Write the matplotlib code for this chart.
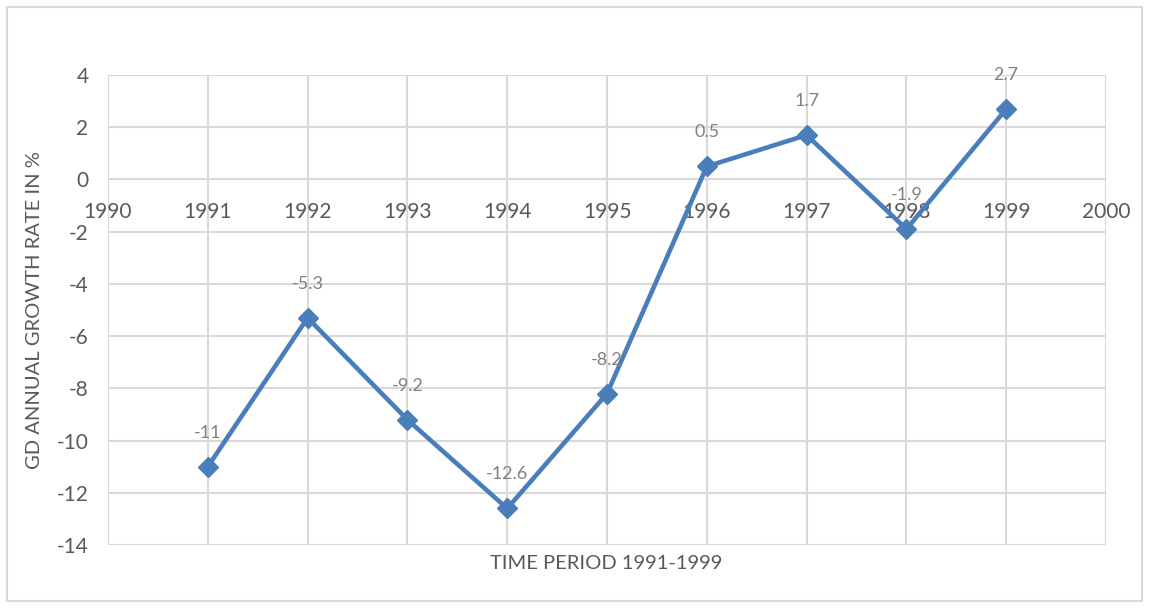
import matplotlib.pyplot as plt
from matplotlib.patches import Rectangle

plt.rcParams['font.family'] = ['Lato', 'DejaVu Sans']
plt.rcParams['axes.unicode_minus'] = False

years = [1991, 1992, 1993, 1994, 1995, 1996, 1997, 1998, 1999]
growth = [-11, -5.3, -9.2, -12.6, -8.2, 0.5, 1.7, -1.9, 2.7]
x_ticks = list(range(1990, 2001))
y_ticks = list(range(-14, 5, 2))

fig = plt.figure(figsize=(11.49, 6.08), dpi=100)
ax = fig.add_axes([0.094, 0.1036, 0.8686, 0.773])

# outer chart border like the Excel chart frame
fig.patches.append(Rectangle((0.006, 0.012), 0.988, 0.976, transform=fig.transFigure,
                             fill=False, edgecolor='#d9d9d9', linewidth=1.5))

ax.plot(years, growth, color='#4a7ebb', linewidth=3.3, marker='D', markersize=10,
        zorder=3, clip_on=False)

for x, y in zip(years, growth):
    ax.annotate(f"{y:g}", (x, y), xytext=(0, 34), textcoords='offset pixels',
                ha='center', va='center', fontsize=13, color='#808080', zorder=4)

ax.set_xlim(1990, 2000)
ax.set_ylim(-14, 4)
ax.set_xticks(x_ticks)
ax.set_yticks(y_ticks)
ax.grid(True, color='#d9d9d9', linewidth=1.5)
ax.set_axisbelow(True)

for side in ['top', 'right', 'left', 'bottom']:
    ax.spines[side].set_visible(False)
ax.spines['bottom'].set_position(('data', 0))

ax.tick_params(axis='x', length=0, pad=16, labelsize=15, labelcolor='#595959')
ax.tick_params(axis='y', length=0, pad=14, labelsize=15, labelcolor='#595959')

ax.set_ylabel('GD ANNUAL GROWTH RATE IN %', fontsize=14.5, color='#595959', labelpad=10)
fig.text(0.528, 0.074, 'TIME PERIOD 1991-1999', ha='center', va='center',
         fontsize=14.5, color='#595959')

fig.savefig('out.png', dpi=100)
